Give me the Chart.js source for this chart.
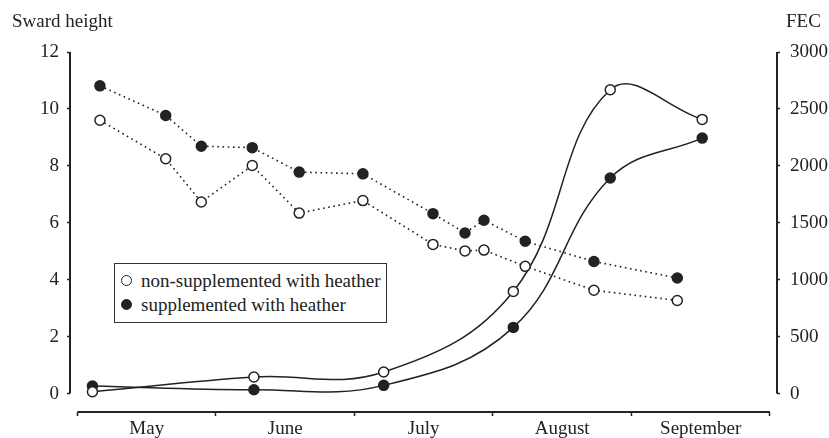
<!DOCTYPE html>
<html lang="en">
<head>
    <meta charset="UTF-8">
    <title>Sward height and FEC</title>
    <style>
        body {
            margin: 0;
            background: #fff;
        }
        #wrap {
            position: relative;
            width: 829px;
            height: 438px;
        }
        .title {
            position: absolute;
            top: 10px;
            font: 19px "Liberation Serif", "Times New Roman", serif;
            color: #222;
        }
        #legend {
            position: absolute;
            left: 114px;
            top: 263px;
            width: 273px;
            height: 60px;
            box-sizing: border-box;
            border: 1.5px solid #333;
            background: #fff;
            font: 19px "Liberation Serif", "Times New Roman", serif;
            color: #222;
            padding-top: 5px;
        }
        #legend div {
            height: 24px;
            line-height: 24px;
            padding-left: 26px;
            position: relative;
        }
        #legend span {
            position: absolute;
            left: 6px;
            top: 6px;
            width: 9px;
            height: 9px;
            border-radius: 50%;
            border: 1.5px solid #222;
            background: #fff;
        }
        #legend span.filled {
            background: #222;
        }
    </style>
</head>
<body>
    <div id="wrap">
        <canvas id="myChart"></canvas>
        <div class="title" style="left:12px">Sward height</div>
        <div class="title" style="left:786px">FEC</div>
        <div id="legend">
            <div><span></span>non-supplemented with heather</div>
            <div><span class="filled"></span>supplemented with heather</div>
        </div>
    </div>

    <script src="https://cdn.jsdelivr.net/npm/chart.js"></script>
    <script>
        // x positions are in months counted from the start of May
        const months = ['May', 'June', 'July', 'August', 'September'];
        const swardX = [0.162, 0.637, 0.894, 1.262, 1.601, 2.061, 2.567, 2.798, 2.935, 3.233, 3.729, 4.331];
        const swardNonSupp = [9.60, 8.25, 6.73, 8.01, 6.34, 6.78, 5.24, 5.01, 5.04, 4.47, 3.63, 3.27];
        const swardSupp = [10.81, 9.77, 8.69, 8.64, 7.78, 7.72, 6.32, 5.64, 6.09, 5.35, 4.64, 4.06];
        const fecX = [0.108, 1.274, 2.211, 3.147, 3.847, 4.511];
        const fecNonSupp = [16, 145, 189, 897, 2668, 2408];
        const fecSupp = [66, 33, 72, 581, 1893, 2244];
        const swardTicks = [0, 2, 4, 6, 8, 10, 12];
        const fecTicks = [0, 500, 1000, 1500, 2000, 2500, 3000];
        const monthTicks = [0, 0.5, 1, 1.5, 2, 2.5, 3, 3.5, 4, 4.5, 5];

        const ink = '#222';

        function toPoints(xs, ys) {
            return xs.map((x, i) => ({ x: x, y: ys[i] }));
        }

        // axis lines only span the tick range, like the original figure
        const axisLines = {
            id: 'axisLines',
            afterDraw(chart) {
                const { ctx, chartArea, scales } = chart;
                ctx.save();
                ctx.strokeStyle = ink;
                ctx.lineWidth = 2;
                ctx.beginPath();
                ctx.moveTo(chartArea.left, scales.y.getPixelForValue(12));
                ctx.lineTo(chartArea.left, scales.y.getPixelForValue(0));
                ctx.moveTo(chartArea.right, scales.y1.getPixelForValue(3000));
                ctx.lineTo(chartArea.right, scales.y1.getPixelForValue(0));
                ctx.moveTo(scales.x.getPixelForValue(0), chartArea.bottom);
                ctx.lineTo(scales.x.getPixelForValue(5), chartArea.bottom);
                ctx.stroke();
                ctx.restore();
            }
        };

        Chart.defaults.font.family = '"Liberation Serif", "Times New Roman", serif';
        Chart.defaults.font.size = 19;
        Chart.defaults.color = ink;

        const dotted = {
            borderColor: ink,
            borderWidth: 1.6,
            borderDash: [1.6, 3.6],
            tension: 0,
            pointRadius: 5,
            pointBorderWidth: 1.5,
            pointBorderColor: ink,
            yAxisID: 'y'
        };
        const solid = {
            borderColor: ink,
            borderWidth: 1.5,
            tension: 0.4,
            pointRadius: 5,
            pointBorderWidth: 1.5,
            pointBorderColor: ink,
            yAxisID: 'y1'
        };

        const ctx = document.getElementById('myChart').getContext('2d');
        const myChart = new Chart(ctx, {
            type: 'line',
            data: {
                datasets: [
                    Object.assign({}, dotted, { label: 'Sward height, non-supplemented', data: toPoints(swardX, swardNonSupp), pointBackgroundColor: '#fff' }),
                    Object.assign({}, dotted, { label: 'Sward height, supplemented', data: toPoints(swardX, swardSupp), pointBackgroundColor: ink }),
                    Object.assign({}, solid, { label: 'FEC, non-supplemented', data: toPoints(fecX, fecNonSupp), pointBackgroundColor: '#fff' }),
                    Object.assign({}, solid, { label: 'FEC, supplemented', data: toPoints(fecX, fecSupp), pointBackgroundColor: ink })
                ]
            },
            options: {
                responsive: true,
                maintainAspectRatio: false,
                animation: false,
                layout: { padding: { top: 52, left: 0, right: 0, bottom: 0 } },
                plugins: {
                    legend: { display: false },
                    tooltip: { enabled: false }
                },
                scales: {
                    x: {
                        type: 'linear',
                        min: -0.054,
                        max: 5.051,
                        afterBuildTicks: s => { s.ticks = monthTicks.map(v => ({ value: v })); },
                        afterFit: s => { s.height = 26; },
                        border: { display: false },
                        grid: {
                            drawOnChartArea: false,
                            tickLength: 4,
                            tickWidth: 1.5,
                            tickColor: c => (c.tick && c.tick.value % 1 === 0) ? ink : 'rgba(0,0,0,0)'
                        },
                        ticks: {
                            autoSkip: false,
                            maxRotation: 0,
                            padding: 2,
                            callback: v => (v % 1 === 0.5) ? months[Math.floor(v)] : ''
                        }
                    },
                    y: {
                        position: 'left',
                        min: -0.649,
                        max: 12,
                        afterBuildTicks: s => { s.ticks = swardTicks.map(v => ({ value: v })); },
                        afterFit: s => { s.width = 70; },
                        border: { display: false },
                        grid: { drawOnChartArea: false, tickLength: 3, tickWidth: 1.5, tickColor: ink },
                        ticks: { padding: 8, callback: v => String(v) }
                    },
                    y1: {
                        position: 'right',
                        min: -162,
                        max: 3000,
                        afterBuildTicks: s => { s.ticks = fecTicks.map(v => ({ value: v })); },
                        afterFit: s => { s.width = 52; },
                        border: { display: false },
                        grid: { drawOnChartArea: false, tickLength: 3, tickWidth: 1.5, tickColor: ink },
                        ticks: { padding: 10, callback: v => String(v) }
                    }
                }
            },
            plugins: [axisLines]
        });
    </script>
</body>
</html>
